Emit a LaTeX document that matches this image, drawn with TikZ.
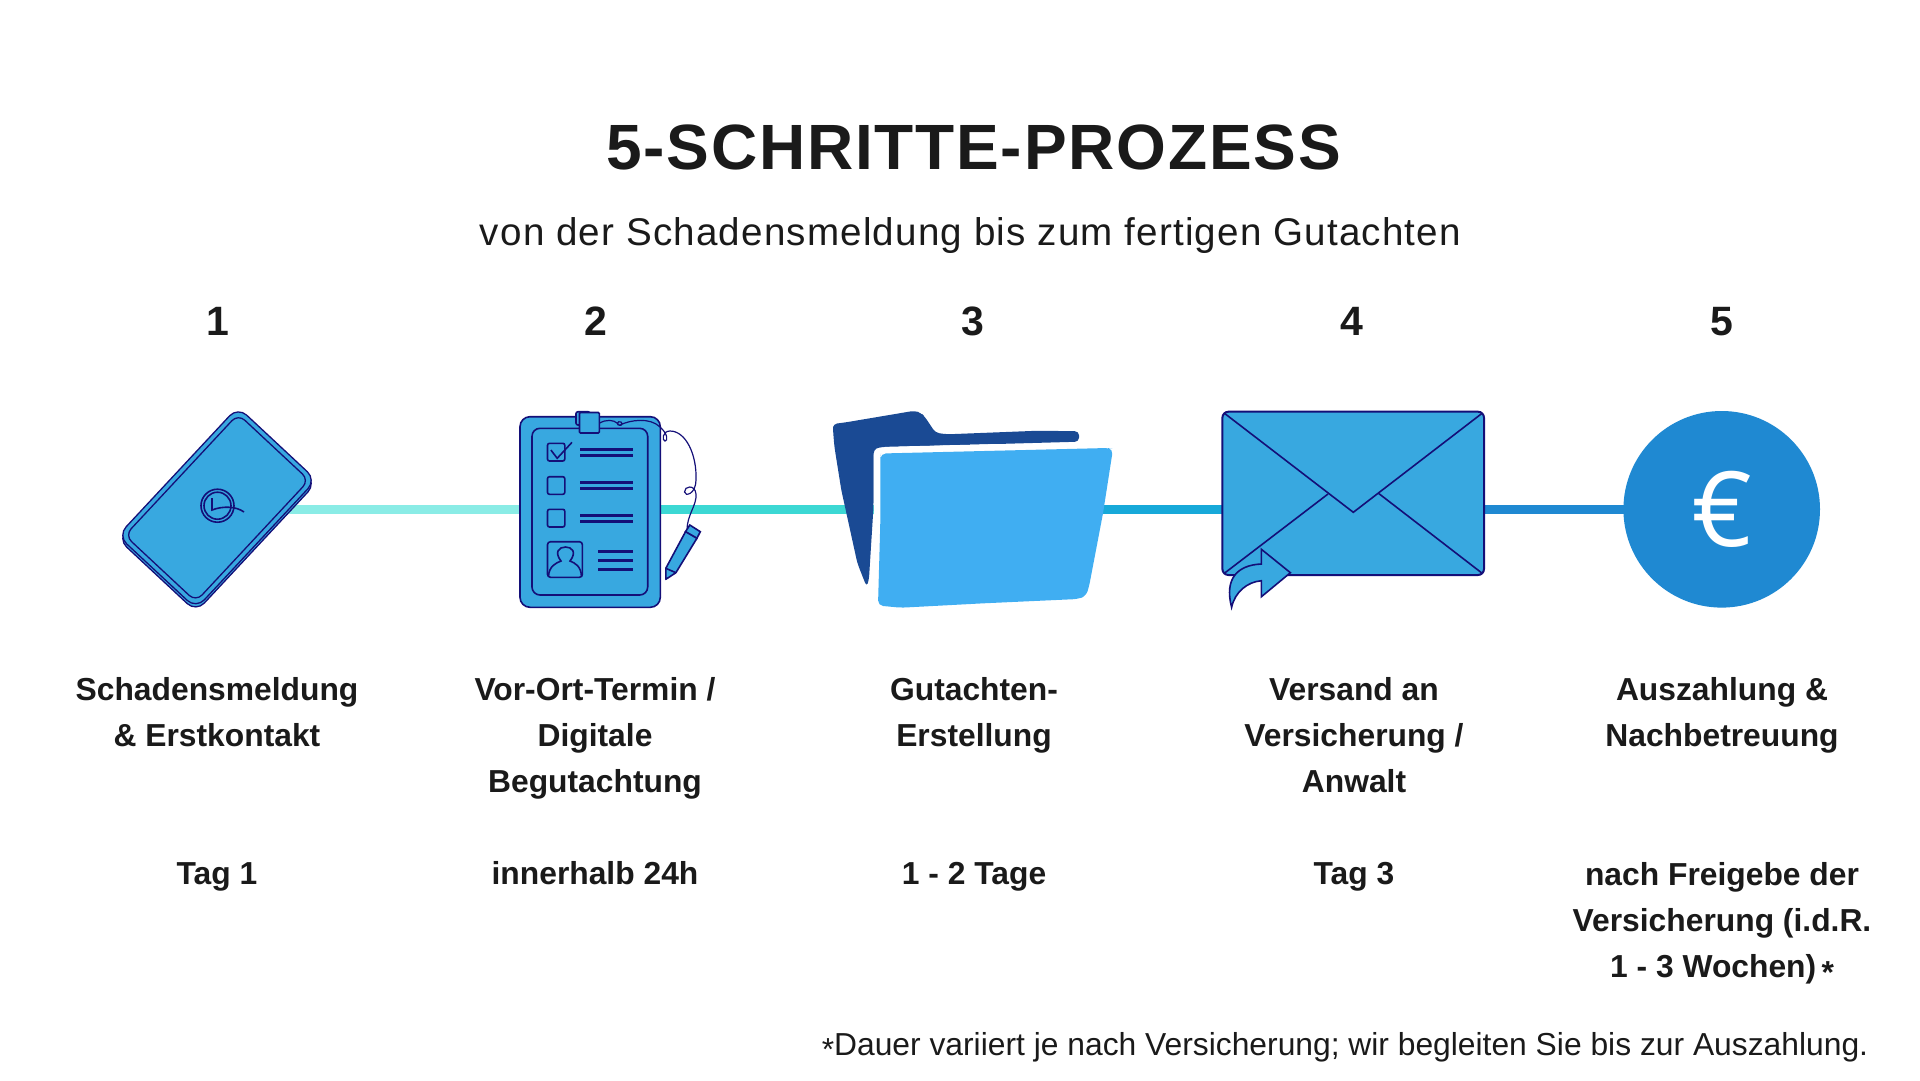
\documentclass[tikz,border=0pt]{standalone}
\usepackage{fontspec}
\setmainfont{Liberation Sans}
\newfontfamily\headfont[LetterSpace=2.8]{Liberation Sans}
\newfontfamily\subfont[LetterSpace=3]{Liberation Sans}
\newfontfamily\eurofont{Open Sans}
\usepackage{xcolor}
\usepackage{tikz}
\definecolor{ink}{HTML}{1A1A1A}
\definecolor{navy}{HTML}{140F78}
\definecolor{iconblue}{HTML}{38A8E0}
\definecolor{folderdark}{HTML}{1A4A94}
\definecolor{folderlight}{HTML}{40AEF2}
\definecolor{segone}{HTML}{8AECE6}
\definecolor{segtwo}{HTML}{3CD8D4}
\definecolor{segthree}{HTML}{17A9D9}
\definecolor{segfour}{HTML}{1F89D2}
\newcommand{\lowstar}{\raisebox{-0.35ex}{*}}
\tikzset{
  icon/.style={draw=navy,fill=iconblue,line width=1.6pt},
  thinline/.style={draw=navy,line width=1.6pt},
  textline/.style={draw=navy,line width=3pt},
  seg/.style={line width=8.4pt},
  txt/.style={text=ink,inner sep=0pt,anchor=base,align=center},
  label/.style={txt,font=\bfseries\fontsize{31.8}{46}\selectfont},
  number/.style={txt,font=\bfseries\fontsize{41}{46}\selectfont}
}
\begin{document}
\begin{tikzpicture}[x=1pt,y=-1pt]
  \useasboundingbox (0,0) rectangle (1920,1080);
  % Head
  \node[txt,font=\headfont\bfseries\fontsize{64}{70}\selectfont] (title) at (973.5,169) {5-SCHRITTE-PROZESS};
  \node[txt,font=\subfont\fontsize{38.6}{44}\selectfont] (subtitle) at (970.5,245) {von der Schadensmeldung bis zum fertigen Gutachten};
  \node[number] (num1) at (217.5,335.5) {1};
  \node[number] (num2) at (595.5,335.5) {2};
  \node[number] (num3) at (973,335.5) {3};
  \node[number] (num4) at (1351.5,335.5) {4};
  \node[number] (num5) at (1722,335.5) {5};
  % Timeline
  \coordinate (phone) at (217,509.3);
  \coordinate (board) at (590,509.3);
  \coordinate (folder) at (990,509.3);
  \coordinate (mail) at (1353,509.3);
  \coordinate (coin) at (1721.7,509.3);
  \draw[seg,segone] (phone) -- (board);
  \draw[seg,segtwo] (board) -- (folder);
  \draw[seg,segthree] (folder) -- (mail);
  \draw[seg,segfour] (mail) -- (coin);
  % Phone
  \foreach \py in {511,507.8} {
    \begin{scope}[shift={(217,\py)},rotate=47]
      \draw[icon,line width=1.3pt,rounded corners=12pt] (-88,-53.5) rectangle (88,53.5);
    \end{scope}
  }
  \begin{scope}[shift={(217,507.8)},rotate=47]
    \draw[thinline,line width=1.3pt,rounded corners=9pt] (-83,-48.5) rectangle (83,48.5);
  \end{scope}
  \draw[thinline] (217.5,505.7) circle (16.5);
  \draw[thinline] (217.5,505.7) circle (13.5);
  \draw[thinline] (212,498) -- (212,510) .. controls (222,506) and (236,506) .. (244,512);
  % Clipboard
  \draw[icon,rounded corners=10pt] (520,416.7) rectangle (660.3,607.3);
  \draw[thinline,rounded corners=8pt] (532,428.3) rectangle (647.7,595);
  \draw[icon,rounded corners=2pt] (576,411.7) rectangle (590,425);
  \draw[icon,rounded corners=1pt] (579.5,412.5) rectangle (599.3,433);
  \draw[icon,rounded corners=2pt] (547.5,443.3) rectangle (564.8,461);
  \draw[icon,rounded corners=2pt] (547.5,476.7) rectangle (564.8,494.3);
  \draw[icon,rounded corners=2pt] (547.5,509.3) rectangle (564.8,527);
  \draw[thinline] (550.9,450) -- (557.2,458.3) -- (572,442.3);
  \foreach \ly in {449.3,455,482.3,488.3,515,521} {
    \draw[textline] (580.3,\ly) -- (633,\ly);
  }
  \foreach \ly in {551,560,569} {
    \draw[textline] (598.4,\ly) -- (633,\ly);
  }
  \draw[icon,rounded corners=3pt] (547.5,541.7) rectangle (582.4,577.3);
  \draw[thinline] (548.5,576.5) .. controls (549,566) and (556,563) .. (561,561) .. controls (554,552) and (559,547) .. (565.6,547) .. controls (572,547) and (577,552) .. (570,561) .. controls (575,563) and (581,566) .. (581.5,576.5);
  % String and pencil
  \draw[navy,line width=1.2pt] (599.3,423.3) .. controls (606,419) and (614,420) .. (617,423) .. controls (620,428) and (624,424) .. (621,422) .. controls (617,420) and (616,426) .. (620,425) .. controls (630,420) and (650,417) .. (660,427) .. controls (668,434) and (668,441) .. (665,441) .. controls (662,441) and (662,431) .. (670,431) .. controls (686,431) and (697,455) .. (696,480) .. controls (696,494) and (685,497) .. (684.5,492) .. controls (684,486) and (695,484) .. (696,494) .. controls (697,505) and (687,515) .. (687,530);
  \draw[icon] (685.5,531.7) -- (689.8,525) -- (700.3,531.7) -- (696.9,538.3) -- cycle;
  \draw[icon,line join=round] (685.5,531.7) -- (696.9,538.3) -- (675.9,572.7) -- (665.8,579.3) -- (665.8,568.3) -- cycle;
  \draw[thinline] (665.8,568.3) -- (675.9,572.7);
  % Folder
  \fill[folderdark,rounded corners=4pt] (833,430) -- (833,424) -- (846,422.3) -- (914.8,410.7) -- (921,413) -- (925,417) -- (935.4,432.7) -- (947,434.3) -- (1038.8,430.7) -- (1079,431.3) -- (1079,441.7) -- (878,447.3) -- (873.5,450) -- (873.5,506.7) -- (868.9,580) -- (866.6,586.7) -- (857.4,563.3) -- (841.3,490) -- (834.4,446.7) -- cycle;
  \draw[white,line width=13pt] (878,606) -- (880.3,523) -- (880.3,458.3) -- (887.2,453.3) -- (1000,450.5);
  \fill[folderlight,rounded corners=5pt] (880.3,458.3) -- (881,453.5) -- (1107.6,448) -- (1113,449) -- (1103,513.3) -- (1089,586.7) -- (1086,596) -- (1078,599) -- (983.7,603.3) -- (901,607.7) -- (878,605.5) -- (880.3,523) -- cycle;
  % Envelope
  \draw[icon,line width=2pt,rounded corners=6pt] (1222.4,411.7) rectangle (1484,575);
  \draw[thinline] (1224.7,413.5) -- (1353.3,512.3) -- (1481.8,413.5);
  \draw[thinline] (1224.7,573) -- (1328,494);
  \draw[thinline] (1481.8,573) -- (1378.5,493.3);
  \draw[icon] (1290.4,572.7) -- (1261.4,549.3) -- (1261.4,564) .. controls (1238,565) and (1224,578) .. (1231.6,607.3) .. controls (1235,592) and (1247,582) .. (1261.4,580.7) -- (1261.4,596.7) -- cycle;
  % Coin
  \node[circle,fill=segfour,inner sep=0pt,minimum size=196.6pt,text=white,font=\eurofont\fontsize{104}{105}\selectfont] (euro) at (coin) {\raisebox{-3pt}{€}};
  % Labels
  \node[label] (lab1) at (217,746) {Schadensmeldung\\\& Erstkontakt};
  \node[label] (lab2) at (595,792) {Vor-Ort-Termin /\\Digitale\\Begutachtung};
  \node[label] (lab3) at (974,746) {Gutachten-\\Erstellung};
  \node[label] (lab4) at (1354,792) {Versand an\\Versicherung /\\Anwalt};
  \node[label] (lab5) at (1722,746) {Auszahlung \&\\Nachbetreuung};
  \node[label] (time1) at (217,884) {Tag 1};
  \node[label] (time2) at (595,884) {innerhalb 24h};
  \node[label] (time3) at (974,884) {1 - 2 Tage};
  \node[label] (time4) at (1354,884) {Tag 3};
  \node[label] (time5) at (1722,977.4) {nach Freigebe der\\Versicherung (i.d.R.\\1 - 3 Wochen)\,\lowstar};
  \node[txt,font=\fontsize{31.8}{36}\selectfont] (note) at (1345,1055) {\lowstar Dauer variiert je nach Versicherung; wir begleiten Sie bis zur Auszahlung.};
\end{tikzpicture}
\end{document}
